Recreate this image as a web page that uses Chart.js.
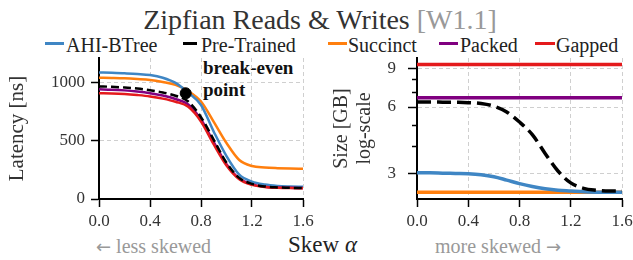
<!DOCTYPE html>
<html><head><meta charset="utf-8">
<script src="https://cdn.jsdelivr.net/npm/chart.js@4"></script>
<style>
html,body{margin:0;padding:0;background:#fff;}
body{width:633px;height:260px;overflow:hidden;position:relative;font-family:'Liberation Serif',serif;}
.abs{position:absolute;white-space:nowrap;}
#title{left:0;width:640px;text-align:center;top:6px;font-size:28px;line-height:28px;color:#333;}
#title span{color:#999;}
.lg{font-size:20px;line-height:20px;color:#222;top:35px;}
.lgline{position:absolute;height:0;top:44px;}
.cap{font-size:20px;line-height:20px;color:#999;top:236px;}
.arr{font-family:'DejaVu Sans',sans-serif;font-size:18px;}
#skew{font-size:23px;line-height:23px;color:#222;top:233px;left:288px;}
#be{font-weight:bold;font-size:19px;line-height:22px;color:#111;left:203px;top:57px;}
canvas{position:absolute;}
</style></head>
<body>
<div id="title" class="abs">Zipfian Reads &amp; Writes <span>[W1.1]</span></div>
<div id="legend"></div>
<div class="abs cap" style="left:96px"><span class="arr">←</span> less skewed</div>
<div id="skew" class="abs">Skew <i>α</i></div>
<div class="abs cap" style="left:435px">more skewed <span class="arr">→</span></div>
<div id="be" class="abs">break-even<br>point</div>
<canvas id="c1" width="315" height="185" style="left:0;top:50px;width:315px;height:185px"></canvas>
<canvas id="c2" width="313" height="185" style="left:320px;top:50px;width:313px;height:185px"></canvas>
<script>
// ---- data ----
const skew = [0,0.1,0.2,0.3,0.4,0.5,0.6,0.7,0.8,0.9,1.0,1.1,1.2,1.3,1.4,1.5,1.6];
const seriesNames = ['AHI-BTree','Pre-Trained','Succinct','Packed','Gapped'];
const latAHI       = [1090,1088,1083,1077,1068,1045,1000,915,810,580,370,210,150,125,113,108,105];
const latPreTrained= [970,967,961,952,938,918,890,840,705,510,312,182,130,108,100,96,95];
const latSuccinct  = [1045,1043,1040,1034,1026,1008,983,930,840,665,482,336,284,272,266,262,260];
const latPacked    = [945,942,936,926,912,892,862,815,685,490,300,176,126,106,99,96,95];
const latGapped    = [912,910,905,896,884,865,838,795,668,470,288,170,122,104,97,94,93];
const sizeAHI       = [3.02,3.02,3.01,3.0,2.99,2.96,2.9,2.8,2.7,2.62,2.56,2.52,2.5,2.48,2.47,2.47,2.47];
const sizePreTrained= [6.32,6.32,6.31,6.3,6.28,6.22,6.05,5.7,5.13,4.5,3.7,3.08,2.72,2.57,2.52,2.5,2.5];
const sizeSuccinct  = [2.47,2.47,2.47,2.47,2.47,2.47,2.47,2.47,2.47,2.47,2.47,2.47,2.47,2.47,2.47,2.47,2.47];
const sizePacked    = [6.6,6.6,6.6,6.6,6.6,6.6,6.6,6.6,6.6,6.6,6.6,6.6,6.6,6.6,6.6,6.6,6.6];
const sizeGapped    = [9.35,9.35,9.35,9.35,9.35,9.35,9.35,9.35,9.35,9.35,9.35,9.35,9.35,9.35,9.35,9.35,9.35];
const breakEven = [{x:0.68, y:911}];
const xTicks = [0,0.4,0.8,1.2,1.6];
const latTicks = [0,500,1000];
const sizeTicks = [3,6,9];
const sizeMinorTicks = [4,5,7,8];

// ---- style ----
const colors = ['#3f86c4','#000000','#ff7f0e','#800080','#e41a1c'];
const legendPos = [[45,19,66],[183,14,201],[328,19,348],[439,19,460],[535,20,556]];
const FONT = "'Liberation Serif', serif";

// legend
const lg = document.getElementById('legend');
seriesNames.forEach((n,i)=>{
  const [lx,lw,tx] = legendPos[i];
  const l = document.createElement('div');
  l.className='lgline';
  l.style.left=lx+'px'; l.style.width=lw+'px';
  l.style.borderTop='3.5px solid '+colors[i];
  l.style.marginTop='-1.75px';
  lg.appendChild(l);
  const t = document.createElement('div');
  t.className='abs lg'; t.style.left=tx+'px'; t.textContent=n;
  lg.appendChild(t);
});

const pairs = ys => skew.map((x,i)=>({x, y: ys[i]}));
function lineDs(label, ys, i, lw, dash, order){
  return {type:'line', label, data:pairs(ys), borderColor:colors[i], backgroundColor:colors[i],
    borderWidth:lw, borderDash:dash, pointRadius:0, cubicInterpolationMode:'monotone', fill:false, order};
}
const gridColor = '#cfcfcf';
function xScale(){
  return {type:'linear', min:0, max:1.6,
    afterBuildTicks: s => { s.ticks = xTicks.map(v=>({value:v})); },
    afterFit: s => { s.height = 36; s.paddingLeft = 0; s.paddingRight = 0; },
    ticks:{callback:v=>Number(v).toFixed(1), font:{family:FONT,size:17}, color:'#333', padding:4, maxRotation:0, autoSkip:false},
    grid:{color: c => (c.tick && c.tick.value===0) ? 'rgba(0,0,0,0)' : gridColor, lineWidth:1, tickColor:'#000', tickWidth:1.5, tickLength:8},
    border:{color:'#000', width:2, dash:[4,3]}
  };
}
const common = {responsive:false, animation:false, events:[],
  plugins:{legend:{display:false}, tooltip:{enabled:false}, title:{display:false}}};

new Chart(document.getElementById('c1'), {
  data:{datasets:[
    {type:'scatter', label:'break-even', data:breakEven, pointRadius:5.5, backgroundColor:'#000', borderColor:'#000', order:0},
    lineDs(seriesNames[1], latPreTrained, 1, 2.5, [8,4], 1),
    lineDs(seriesNames[4], latGapped, 4, 2.5, [], 2),
    lineDs(seriesNames[3], latPacked, 3, 2.5, [], 3),
    lineDs(seriesNames[0], latAHI, 0, 2.5, [], 4),
    lineDs(seriesNames[2], latSuccinct, 2, 2.5, [], 5),
  ]},
  options:{...common,
    layout:{padding:{top:8,right:12,left:0,bottom:0}},
    scales:{
      x: xScale(),
      y:{type:'linear', min:0, max:1215,
        afterBuildTicks: s => { s.ticks = latTicks.map(v=>({value:v})); },
        afterFit: s => { s.width = 99; s.paddingTop = 0; s.paddingBottom = 0; },
        ticks:{callback:v=>String(v), font:{family:FONT,size:17}, color:'#333', padding:6},
        grid:{color: c => (c.tick && c.tick.value===0) ? 'rgba(0,0,0,0)' : gridColor, lineWidth:1, tickColor:'#000', tickWidth:1.5, tickLength:8},
        border:{color:'#000', width:2, dash:[4,3]},
        title:{display:true, text:'Latency [ns]', font:{family:FONT,size:21}, color:'#333', padding:{top:5,bottom:0}}
      }
    }
  }
});

const minorTicksPlugin = {id:'minorTicks', afterDraw(chart){
  const y = chart.scales.y, ctx = chart.ctx;
  ctx.save(); ctx.strokeStyle='#000'; ctx.lineWidth=1.5;
  sizeMinorTicks.forEach(v=>{ const p = Math.round(y.getPixelForValue(v))+0.5;
    ctx.beginPath(); ctx.moveTo(y.right-5,p); ctx.lineTo(y.right,p); ctx.stroke(); });
  ctx.restore();
}};

new Chart(document.getElementById('c2'), {
  data:{datasets:[
    lineDs(seriesNames[1], sizePreTrained, 1, 3.5, [14,6], 1),
    lineDs(seriesNames[0], sizeAHI, 0, 3.5, [], 2),
    lineDs(seriesNames[2], sizeSuccinct, 2, 3.5, [], 3),
    lineDs(seriesNames[3], sizePacked, 3, 3.5, [], 4),
    lineDs(seriesNames[4], sizeGapped, 4, 3.5, [], 5),
  ]},
  plugins:[minorTicksPlugin],
  options:{...common,
    layout:{padding:{top:8,right:11,left:0,bottom:0}},
    scales:{
      x: xScale(),
      y:{type:'logarithmic', min:2.3, max:10,
        afterBuildTicks: s => { s.ticks = sizeTicks.map(v=>({value:v})); },
        afterFit: s => { s.width = 97; s.paddingTop = 0; s.paddingBottom = 0; },
        ticks:{callback:v=>String(v), font:{family:FONT,size:17}, color:'#333', padding:12},
        grid:{color:gridColor, lineWidth:1, tickColor:'#000', tickWidth:1.5, tickLength:9},
        border:{color:'#000', width:2, dash:[4,3]},
        title:{display:true, text:['Size [GB]','log-scale'], font:{family:FONT,size:20, lineHeight:1.15}, color:'#333', padding:{top:10,bottom:0}}
      }
    }
  }
});
</script>
</body></html>
